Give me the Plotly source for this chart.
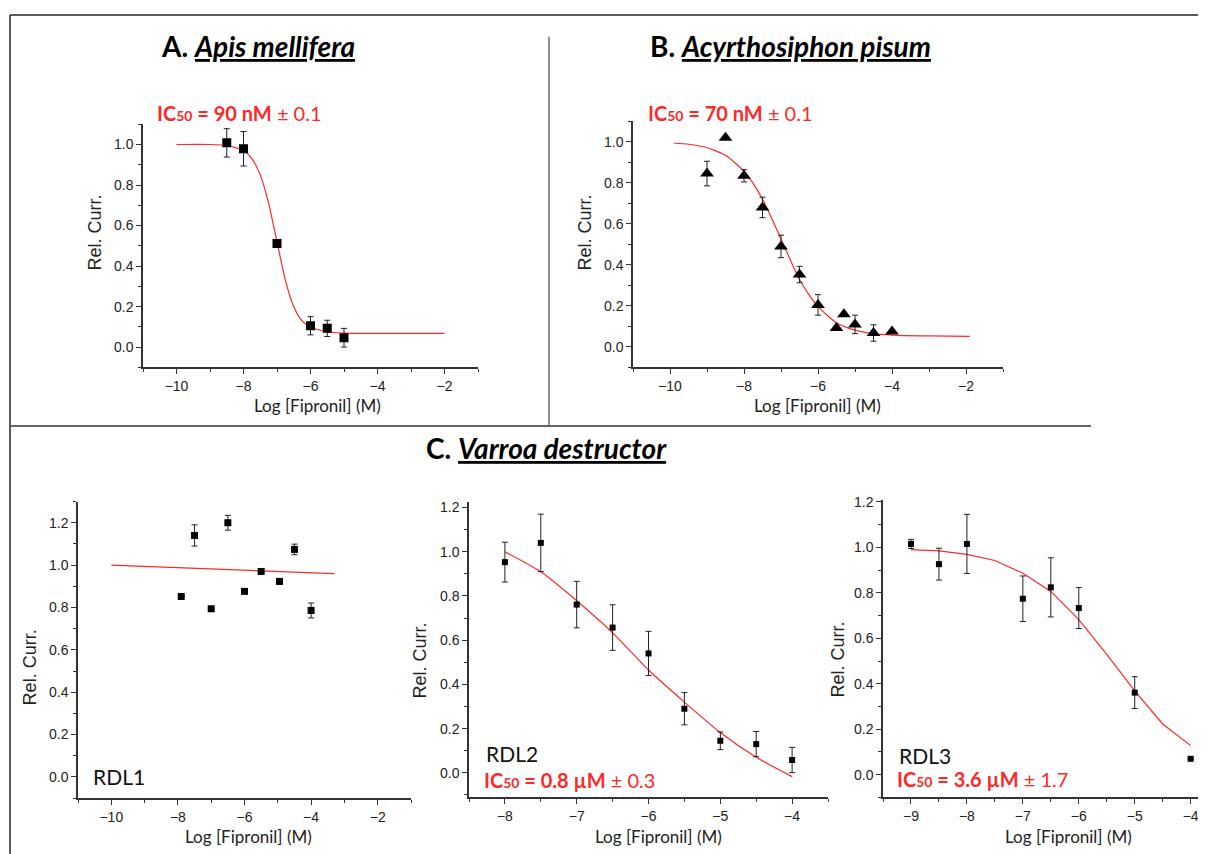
import plotly.graph_objects as go

W, H = 1206, 854
# the page places the figure 8px right / 12px down; compensate
OX, OY = 8, 12

# ---------------- data ----------------
# Panel A: Apis mellifera
A_x = [-8.5, -8.0, -7.0, -6.0, -5.5, -5.0]
A_y = [1.008, 0.979, 0.512, 0.106, 0.093, 0.047]
A_err = [0.07, 0.085, 0.0, 0.045, 0.04, 0.046]
A_fit_x = [-10, -9, -8.5, -8, -7.75, -7.5, -7.25, -7, -6.75, -6.5, -6.25, -6, -5.5, -5, -4, -2]
A_fit_y = [1.0, 1.0, 0.995, 0.97, 0.93, 0.85, 0.71, 0.52, 0.33, 0.20, 0.13, 0.10, 0.075, 0.07, 0.068, 0.068]

# Panel B: Acyrthosiphon pisum
B_x = [-9.0, -8.5, -8.0, -7.5, -7.0, -6.5, -6.0, -5.5, -5.3, -5.0, -4.5, -4.0]
B_y = [0.845, 1.02, 0.834, 0.68, 0.49, 0.353, 0.205, 0.092, 0.16, 0.11, 0.068, 0.076]
B_err = [0.06, 0.0, 0.03, 0.05, 0.055, 0.04, 0.05, 0.0, 0.0, 0.045, 0.04, 0.0]
B_fit_x = [-9.9, -9.5, -9, -8.5, -8, -7.75, -7.5, -7.25, -7, -6.75, -6.5, -6.25, -6, -5.5, -5, -4.5, -4, -3, -1.9]
B_fit_y = [0.994, 0.988, 0.971, 0.934, 0.857, 0.796, 0.72, 0.626, 0.526, 0.425, 0.33, 0.256, 0.197, 0.118, 0.082, 0.065, 0.058, 0.054, 0.052]

# Panel C: Varroa destructor RDL1
R1_x = [-7.9, -7.5, -7.0, -6.5, -6.0, -5.5, -4.95, -4.5, -4.0]
R1_y = [0.852, 1.14, 0.794, 1.20, 0.876, 0.97, 0.923, 1.074, 0.786]
R1_err = [0.0, 0.05, 0.0, 0.035, 0.0, 0.0, 0.0, 0.025, 0.035]
R1_fit_x = [-10, -3.3]
R1_fit_y = [1.0, 0.96]

# RDL2
R2_x = [-8.0, -7.5, -7.0, -6.5, -6.0, -5.5, -5.0, -4.5, -4.0]
R2_y = [0.953, 1.04, 0.761, 0.657, 0.54, 0.29, 0.145, 0.13, 0.058]
R2_err = [0.09, 0.13, 0.105, 0.103, 0.10, 0.073, 0.04, 0.057, 0.057]
R2_fit_x = [-8, -7.5, -7, -6.5, -6, -5.5, -5, -4.5, -4]
R2_fit_y = [1.0, 0.909, 0.778, 0.633, 0.465, 0.32, 0.182, 0.07, -0.017]

# RDL3
R3_x = [-9.0, -8.5, -8.0, -7.0, -6.5, -6.0, -5.0, -4.0]
R3_y = [1.015, 0.926, 1.015, 0.774, 0.824, 0.733, 0.361, 0.07]
R3_err = [0.02, 0.07, 0.13, 0.10, 0.13, 0.09, 0.07, 0.0]
R3_fit_x = [-9, -8.5, -8, -7.5, -7, -6.5, -6, -5.5, -5, -4.5, -4]
R3_fit_y = [0.99, 0.984, 0.969, 0.942, 0.886, 0.806, 0.682, 0.529, 0.369, 0.223, 0.128]

# ---------------- helpers ----------------
def px(x):
    return (x - OX) / W

def py(y):
    return 1 - (y - OY) / H

TICKFONT = dict(family="Liberation Sans, Arial", size=14, color="#222")
AXCOL = "#333"
RED = "rgb(255,40,40)"

fig = go.Figure()

panels = [
    # axis suffix, xs, ys, errs, fitx, fity, marker, size, xdom(px), ydom(px), xrange, yrange, xdtick, line shape
    ("", A_x, A_y, A_err, A_fit_x, A_fit_y, "square", 9, (143, 478), (123, 368), (-11, -1), (-0.1, 1.1), 2, "spline"),
    ("2", B_x, B_y, B_err, B_fit_x, B_fit_y, "triangle-up", 12, (633, 1003), (120, 368), (-11, -1), (-0.1, 1.1), 2, "spline"),
    ("3", R1_x, R1_y, R1_err, R1_fit_x, R1_fit_y, "square", 7, (78, 411), (503, 801.7), (-11, -1), (-0.1, 1.3), 2, "linear"),
    ("4", R2_x, R2_y, R2_err, R2_fit_x, R2_fit_y, "square", 6, (469, 828), (503, 800.7), (-8.5, -3.5), (-0.11, 1.227), 1, "spline"),
    ("5", R3_x, R3_y, R3_err, R3_fit_x, R3_fit_y, "square", 6, (883, 1206), (501.7, 801), (-9.5, -3.726), (-0.1, 1.207), 1, "linear"),
]

layout_axes = {}
for name, xs, ys, errs, fx, fy, sym, msz, xd, yd, xr, yr, xdt, shp in panels:
    xa = "x" + name
    ya = "y" + name
    lkw = dict(color=RED, width=1.2, shape=shp)
    if shp == "spline":
        lkw["smoothing"] = 0.6
    fig.add_trace(go.Scatter(
        x=fx, y=fy, mode="lines", xaxis=xa, yaxis=ya,
        line=lkw, showlegend=False, hoverinfo="skip",
    ))
    fig.add_trace(go.Scatter(
        x=xs, y=ys, mode="markers", xaxis=xa, yaxis=ya,
        marker=dict(symbol=sym, size=msz, color="black", line=dict(width=0)),
        error_y=dict(type="data", array=errs, visible=True, color="#222", thickness=1, width=3),
        showlegend=False,
    ))
    xkey = "xaxis" + name
    ykey = "yaxis" + name
    layout_axes[xkey] = dict(
        domain=[px(xd[0]), min(px(xd[1]), 1.0)], range=list(xr), anchor=ya,
        showline=True, linecolor=AXCOL, linewidth=1.5, mirror=False,
        ticks="outside", ticklen=5, tickwidth=1, tickcolor=AXCOL,
        tick0=-10, dtick=xdt, showgrid=False, zeroline=False,
        minor=dict(ticks="outside", ticklen=3, tickwidth=1, tickcolor=AXCOL, dtick=xdt / 2, showgrid=False),
        tickfont=TICKFONT,
    )
    layout_axes[ykey] = dict(
        domain=[py(yd[1]), py(yd[0])], range=list(yr), anchor=xa,
        showline=True, linecolor=AXCOL, linewidth=1.5, mirror=False,
        ticks="outside", ticklen=5, tickwidth=1, tickcolor=AXCOL,
        tick0=0, dtick=0.2, tickformat=".1f", showgrid=False, zeroline=False,
        minor=dict(ticks="outside", ticklen=3, tickwidth=1, tickcolor=AXCOL, dtick=0.1, showgrid=False),
        tickfont=TICKFONT,
    )

# ---------------- annotations ----------------
ann = []

def add_text(text, x, y, size, family, color="black", xanchor="center", angle=0):
    ann.append(dict(
        text=text, x=px(x), y=py(y), xref="paper", yref="paper",
        xanchor=xanchor, yanchor="middle", showarrow=False, textangle=angle,
        font=dict(size=size, family=family, color=color),
    ))

TITLEF = "Lato, Open Sans, sans-serif"
add_text("<b>A. <i><u>Apis mellifera</u></i></b>", 258, 44, 28, TITLEF)
add_text("<b>B. <i><u>Acyrthosiphon pisum</u></i></b>", 790, 44, 28, TITLEF)
add_text("<b>C. <i><u>Varroa destructor</u></i></b>", 546, 449, 28, TITLEF)

def ic50(val):
    return "<b>IC<span style='font-size:14px'>50</span> = " + val[0] + "</b> " + val[1]

IC_A = ("90 nM", "± 0.1")
IC_B = ("70 nM", "± 0.1")
IC_R2 = ("0.8 µM", "± 0.3")
IC_R3 = ("3.6 µM", "± 1.7")
add_text(ic50(IC_A), 155, 112, 20, TITLEF, RED, "left")
add_text(ic50(IC_B), 646, 112, 20, TITLEF, RED, "left")
add_text(ic50(IC_R2), 482, 783, 20, TITLEF, RED, "left")
add_text(ic50(IC_R3), 895, 782, 20, TITLEF, RED, "left")

add_text("RDL1", 91, 780, 21, TITLEF, "#111", "left")
add_text("RDL2", 484, 757, 21, TITLEF, "#111", "left")
add_text("RDL3", 897, 759, 21, TITLEF, "#111", "left")

YT = "Rel. Curr."
XT = "Log [Fipronil] (M)"
AXF = "Liberation Sans, Arial"
XTF = "Lato, Open Sans, sans-serif"
for (yx, yy), (xx, xy) in [
    ((95, 232), (317, 406)),
    ((585, 232), (817, 406)),
    ((30, 670), (248, 840)),
    ((420, 663), (658, 840)),
    ((838, 662), (1068, 840)),
]:
    add_text(YT, yx, yy, 18, AXF, "#222", "center", -90)
    add_text(XT, xx, xy, 17, XTF, "#222", "center")

# ---------------- frame lines ----------------
shapes = []

def line(x0, y0, x1, y1, color, width):
    shapes.append(dict(type="line", xref="paper", yref="paper",
                       x0=px(x0), y0=py(y0), x1=px(x1), y1=py(y1),
                       line=dict(color=color, width=width)))

line(10, 13, 1214, 13, "#222", 1.5)
line(10, 13, 10, 866, "#222", 1.5)
line(549, 35, 549, 427, "#444", 1.2)
line(10, 427, 1091, 427, "#666", 2)

fig.update_layout(
    width=W, height=H,
    margin=dict(l=0, r=0, t=0, b=0),
    paper_bgcolor="white", plot_bgcolor="white",
    annotations=ann, shapes=shapes,
    **layout_axes,
)

fig.write_html("out.html")
